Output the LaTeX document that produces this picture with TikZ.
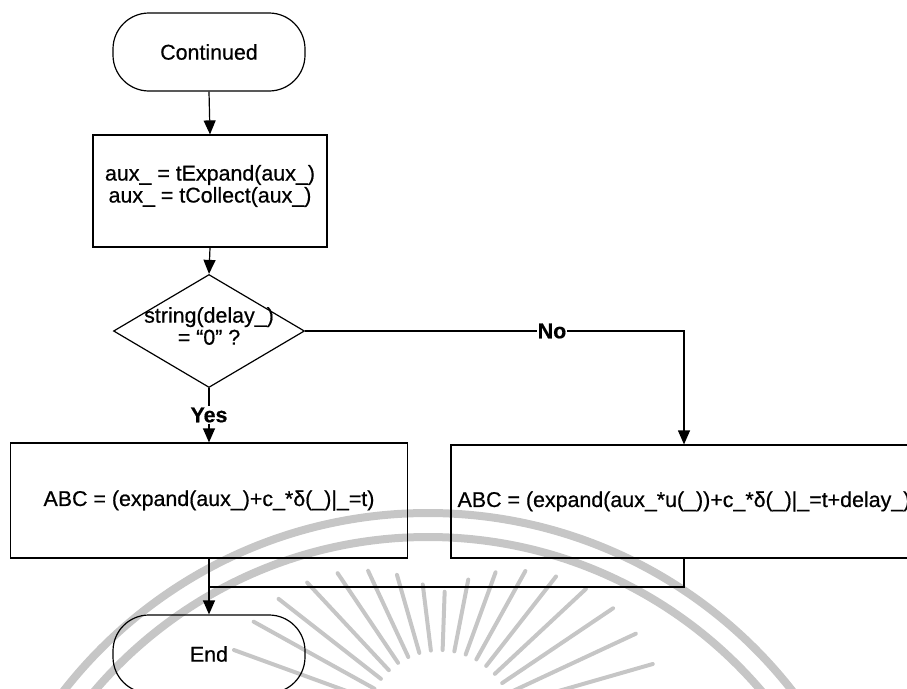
\documentclass[tikz,border=0pt]{standalone}
\usepackage{fontspec}
\setmainfont{Liberation Sans}[FakeBold=0.6]
\usetikzlibrary{arrows.meta,shapes.geometric,calc}
\begin{document}
\begin{tikzpicture}[x=1pt,y=-1pt,
  every node/.style={font=\fontsize{21.4}{22}\selectfont},
  line/.style={line width=1.2pt},
  arr/.style={line, -{Triangle[length=14pt,width=12pt]}},
  term/.style={draw, line width=1.2pt, rounded corners=36pt,
    minimum width=192pt, minimum height=78pt, inner sep=0pt},
  procbox/.style={draw, line width=1.2pt, inner sep=0pt},
  lbl/.style={font=\fontsize{21.4}{22}\selectfont\bfseries, inner sep=1pt},
  wmband/.style={gray!45, line width=8pt},
  wmray/.style={gray!45, line width=4pt, line cap=round}]
\useasboundingbox (0,0) rectangle (907,688);
\begin{scope}
\clip (0,0) rectangle (907,688);
% faint seal in the background
\coordinate (wc) at (428,975);
\draw[wmband] (wc) circle[radius=462];
\draw[wmband] (wc) circle[radius=438];
\coordinate (sc) at (440,725);
\foreach \a in {16,25,...,164} {
  \pgfmathsetmacro\ro{130+95*abs(cos(\a))}
  \draw[wmray] ($(sc)+(-\a:75)$) -- ($(sc)+(-\a:\ro)$);
}
% flowchart
\node[term] (cont) at (209,52) {Continued};
\node[procbox, minimum width=234pt, minimum height=112pt] (calc) at (210,191) {};
\node[align=center, inner sep=0pt] (calctxt) at (210,186)
  {aux\_ = tExpand(aux\_)\\aux\_ = tCollect(aux\_)};
\node[diamond, draw, line width=1.2pt, minimum width=191pt,
  minimum height=113pt, inner sep=0pt] (dec) at (209,331) {};
\node[align=center, inner sep=0pt] (dectxt) at (209,326)
  {string(delay\_)\\= “0” ?};
\node[lbl] (yes) at (209,415) {Yes};
\node[lbl] (no) at (552,331) {No};
\node[procbox, minimum width=397pt, minimum height=115pt] (left) at (209,500.5)
  {ABC = (expand(aux\_)+c\_*δ(\_)|\_=t)};
\node[procbox, minimum width=466pt, minimum height=113pt] (right) at (684,501.5)
  {ABC = (expand(aux\_*u(\_))+c\_*δ(\_)|\_=t+delay\_)};
\node[term] (endt) at (209,654) {End};
\coordinate (mj) at (209,587);
% connectors
\draw[arr] (cont.south) -- (calc.north);
\draw[arr] (calc.south) -- (dec.north);
\draw[line] (dec.south) -- (yes.north);
\draw[arr] (yes.south) -- (left.north);
\draw[line] (dec.east) -- (no.west);
\draw[arr] (no.east) -| (right.north);
\draw[line] (right.south) |- (mj);
\draw[arr] (left.south) -- (endt.north);
\end{scope}
\end{tikzpicture}
\end{document}
